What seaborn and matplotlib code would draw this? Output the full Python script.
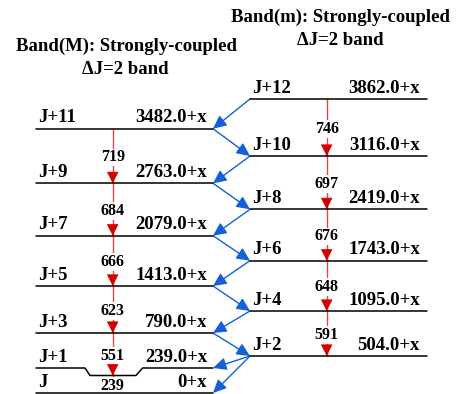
import matplotlib
matplotlib.use("Agg")
import matplotlib.pyplot as plt
import seaborn as sns
import pandas as pd

# ---------------- data ----------------
band_M_spins = ["J+11", "J+9", "J+7", "J+5", "J+3", "J+1", "J"]
band_M_energies = ["3482.0+x", "2763.0+x", "2079.0+x", "1413.0+x", "790.0+x", "239.0+x", "0+x"]
band_M_gammas = ["719", "684", "666", "623", "551", "239"]

band_m_spins = ["J+12", "J+10", "J+8", "J+6", "J+4", "J+2"]
band_m_energies = ["3862.0+x", "3116.0+x", "2419.0+x", "1743.0+x", "1095.0+x", "504.0+x"]
band_m_gammas = ["746", "697", "676", "648", "591"]

# inter-band links (from level, to level)
links_m_to_M = [("J+12", "J+11"), ("J+10", "J+9"), ("J+8", "J+7"), ("J+6", "J+5"),
                ("J+4", "J+3"), ("J+2", "J+1"), ("J+2", "J")]
links_M_to_m = [("J+11", "J+10"), ("J+9", "J+8"), ("J+7", "J+6"), ("J+5", "J+4"),
                ("J+3", "J+2")]

title_M = ["Band(M): Strongly-coupled", "\u0394J=2 band"]
title_m = ["Band(m): Strongly-coupled", "\u0394J=2 band"]

# ---------------- layout (schematic drawing positions, px) ----------------
W, H = 465, 394
M_y = [128.7, 183.3, 235.7, 286.0, 333.0, 368.0, 393.0]
m_y = [99.0, 156.0, 209.3, 260.7, 311.0, 356.0]
M_x0, M_x1 = 36, 213
m_x0, m_x1 = 250, 427
M_gx, m_gx = 112.7, 326.7
dip_y = 375.5          # J+1 level dips in the middle
dip_x = [85, 90, 136, 142.5]

sns.set_style("white")
plt.rcParams["font.family"] = ["Liberation Serif", "DejaVu Serif"]
plt.rcParams["font.weight"] = "bold"

fig = plt.figure(figsize=(W / 100, H / 100), dpi=100)
ax = fig.add_axes([0, 0, 1, 1])

# ---- level lines via seaborn ----
rows = []
for s, y in zip(band_M_spins, M_y):
    if s == "J+1":
        pts = [(M_x0, y), (dip_x[0], y), (dip_x[1], dip_y), (dip_x[2], dip_y),
               (dip_x[3], y), (M_x1, y)]
    else:
        pts = [(M_x0, y), (M_x1, y)]
    for i, (x, yy) in enumerate(pts):
        rows.append(dict(level="M" + s, order=i, x=x, y=yy))
for s, y in zip(band_m_spins, m_y):
    for i, x in enumerate([m_x0, m_x1]):
        rows.append(dict(level="m" + s, order=i, x=x, y=y))
df = pd.DataFrame(rows)
sns.lineplot(data=df, x="x", y="y", units="level", estimator=None, sort=False,
             color="black", linewidth=1.1, ax=ax, legend=False, zorder=4)
ax.set_xlim(0, W)
ax.set_ylim(H, 0)
ax.axis("off")

FS_LEV = 13.5
FS_G = 11.5
txt = dict(fontweight="bold", color="black")

# ---- level labels ----
for s, e, y in zip(band_M_spins, band_M_energies, M_y):
    ax.text(38.5, y - 6.3, s, ha="left", va="baseline", fontsize=FS_LEV, **txt)
    ax.text(207, y - 6.3, e, ha="right", va="baseline", fontsize=FS_LEV, **txt)
for s, e, y in zip(band_m_spins, band_m_energies, m_y):
    ax.text(252.5, y - 6.3, s, ha="left", va="baseline", fontsize=FS_LEV, **txt)
    ax.text(420, y - 6.3, e, ha="right", va="baseline", fontsize=FS_LEV, **txt)

# ---- in-band transitions (red) ----
RED_LINE = "#e04848"
RED_HEAD = "#d40000"
def inband(x, y_top, y_bot, lab):
    ax.plot([x, x], [y_top, y_bot], color=RED_LINE, lw=1.0, zorder=2)
    ax.annotate("", xy=(x, y_bot), xytext=(x, y_bot - 10),
                arrowprops=dict(arrowstyle="-|>,head_length=0.75,head_width=0.38",
                                mutation_scale=10, color=RED_HEAD, lw=0.5,
                                shrinkA=0, shrinkB=0), zorder=2)
    mid = (y_top + y_bot) / 2
    ax.text(x, mid + 5.3, lab, ha="center", va="baseline", fontsize=FS_G, zorder=3,
            bbox=dict(facecolor="white", edgecolor="none", pad=0.6), **txt)

M_eff = [y if s != "J+1" else dip_y for s, y in zip(band_M_spins, M_y)]
for i, g in enumerate(band_M_gammas):
    inband(M_gx, M_eff[i], M_eff[i + 1], g)
for i, g in enumerate(band_m_gammas):
    inband(m_gx, m_y[i], m_y[i + 1], g)

# ---- inter-band transitions (blue) ----
BLUE = "#1560d8"
Mpos = dict(zip(band_M_spins, M_y))
mpos = dict(zip(band_m_spins, m_y))
def link(p0, p1):
    ax.annotate("", xy=p1, xytext=p0,
                arrowprops=dict(arrowstyle="-|>,head_length=0.8,head_width=0.38",
                                mutation_scale=10, color=BLUE, lw=1.0,
                                shrinkA=0, shrinkB=0), zorder=2)
for a, b in links_m_to_M:
    link((m_x0, mpos[a]), (M_x1, Mpos[b]))
for a, b in links_M_to_m:
    link((M_x1, Mpos[a]), (m_x0, mpos[b]))

# ---- titles ----
ax.text(126, 50.5, title_M[0], ha="center", va="baseline", fontsize=FS_LEV, **txt)
ax.text(125, 73.5, title_M[1], ha="center", va="baseline", fontsize=FS_LEV, **txt)
ax.text(340, 21.7, title_m[0], ha="center", va="baseline", fontsize=FS_LEV, **txt)
ax.text(340, 45, title_m[1], ha="center", va="baseline", fontsize=FS_LEV, **txt)

fig.savefig("out.png", dpi=100, facecolor="white")
